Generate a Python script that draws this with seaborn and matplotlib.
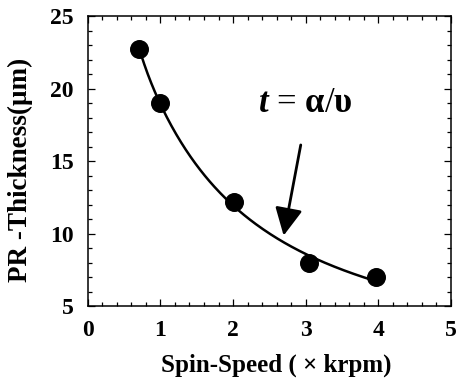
import numpy as np
import pandas as pd
import seaborn as sns
import matplotlib
matplotlib.use("Agg")
import matplotlib.pyplot as plt
from matplotlib.ticker import MultipleLocator

speed = [0.71, 0.99, 2.01, 3.05, 3.97]
thickness = [22.75, 18.98, 12.15, 7.94, 7.02]
x_ticks = [0, 1, 2, 3, 4, 5]
y_ticks = [5, 10, 15, 20, 25]

sns.set_theme(style="ticks")
plt.rcParams['font.family'] = ['Liberation Serif', 'DejaVu Serif']
plt.rcParams['mathtext.fontset'] = 'custom'
plt.rcParams['mathtext.rm'] = 'Liberation Serif:bold'
plt.rcParams['mathtext.it'] = 'Liberation Serif:italic:bold'
plt.rcParams['text.color'] = 'black'
plt.rcParams['axes.labelcolor'] = 'black'
plt.rcParams['xtick.color'] = 'black'
plt.rcParams['ytick.color'] = 'black'

df = pd.DataFrame({"speed": speed, "thickness": thickness})

# smooth fitted curve through the measured points (cubic in 1/x)
coef = np.polyfit(1.0 / np.array(speed), thickness, 3)
xs = np.linspace(min(speed), max(speed), 200)
fit = pd.DataFrame({"speed": xs, "thickness": np.polyval(coef, 1.0 / xs)})

fig = plt.figure(figsize=(4.6, 3.83), dpi=100)
ax = fig.add_axes([0.191, 0.201, 0.789, 0.757])

sns.lineplot(data=fit, x="speed", y="thickness", color="black", linewidth=1.8, ax=ax)
sns.scatterplot(data=df, x="speed", y="thickness", color="black", s=160, edgecolor="black", zorder=3, ax=ax)

ax.set_xlim(0, 5)
ax.set_ylim(5, 25)
ax.set_xticks(x_ticks)
ax.set_yticks(y_ticks)
ax.xaxis.set_minor_locator(MultipleLocator(0.2))
ax.yaxis.set_minor_locator(MultipleLocator(1))
ax.tick_params(which="both", direction="in", top=True, right=True, color="black", width=0.9)
ax.tick_params(which="major", length=5, labelsize=17, pad=10)
ax.tick_params(which="minor", length=3)
for lab in ax.get_xticklabels() + ax.get_yticklabels():
    lab.set_fontweight("bold")
for sp in ax.spines.values():
    sp.set_visible(True)
    sp.set_color("black")
    sp.set_linewidth(1.1)

ax.set_xlabel("Spin-Speed ( × krpm)", fontsize=18, fontweight="bold")
ax.set_ylabel("PR -Thickness(μm)", fontsize=19.5, fontweight="bold")
ax.xaxis.set_label_coords(0.518, -0.165)
ax.yaxis.set_label_coords(-0.15, 0.47)

ax.text(3.0, 19.0, r"$t$ = $\mathrm{\alpha}$/$\mathrm{\upsilon}$", fontsize=25, ha="center", va="center")
ax.annotate("", xy=(2.69, 9.67), xytext=(2.94, 16.3),
            arrowprops=dict(arrowstyle="-|>,head_length=0.6,head_width=0.3", color="black", lw=2.0, mutation_scale=28))

fig.savefig("out.png", dpi=100)
